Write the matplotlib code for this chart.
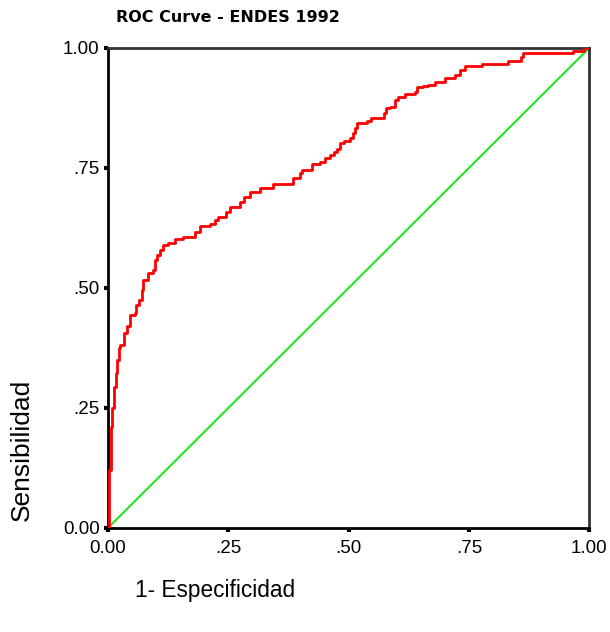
import matplotlib
matplotlib.use("Agg")
import matplotlib.pyplot as plt

# ROC curve vertices (1 - specificity, sensitivity)
fpr = [0.000, 0.002, 0.006, 0.007, 0.009, 0.0125, 0.016, 0.019, 0.023, 0.026,
       0.033, 0.039, 0.046, 0.056, 0.058, 0.065, 0.070, 0.073, 0.084, 0.094,
       0.098, 0.101, 0.108, 0.115, 0.125, 0.139, 0.156, 0.181, 0.191, 0.212,
       0.222, 0.229, 0.245, 0.254, 0.274, 0.283, 0.295, 0.316, 0.343, 0.385,
       0.399, 0.403, 0.424, 0.441, 0.451, 0.462, 0.470, 0.476, 0.482, 0.490,
       0.503, 0.509, 0.513, 0.518, 0.538, 0.547, 0.574, 0.578, 0.587, 0.597,
       0.603, 0.617, 0.638, 0.642, 0.655, 0.665, 0.680, 0.700, 0.721, 0.732,
       0.742, 0.778, 0.832, 0.859, 0.863, 0.967, 0.990, 1.000]
tpr = [0.000, 0.120, 0.163, 0.210, 0.250, 0.294, 0.323, 0.350, 0.375, 0.381,
       0.406, 0.420, 0.444, 0.448, 0.465, 0.475, 0.496, 0.517, 0.531, 0.538,
       0.558, 0.569, 0.579, 0.590, 0.594, 0.602, 0.606, 0.617, 0.629, 0.633,
       0.642, 0.648, 0.658, 0.669, 0.679, 0.690, 0.700, 0.708, 0.717, 0.729,
       0.740, 0.746, 0.758, 0.763, 0.771, 0.777, 0.783, 0.790, 0.802, 0.806,
       0.813, 0.823, 0.833, 0.844, 0.848, 0.854, 0.865, 0.875, 0.877, 0.892,
       0.898, 0.904, 0.908, 0.919, 0.921, 0.923, 0.929, 0.938, 0.944, 0.954,
       0.963, 0.967, 0.973, 0.982, 0.989, 0.994, 1.000, 1.000]

ref_line = [0.0, 1.0]

ticks = [0.0, 0.25, 0.5, 0.75, 1.0]
tick_labels = ["0.00", ".25", ".50", ".75", "1.00"]

fig = plt.figure(figsize=(6.1, 6.32), dpi=100, facecolor="white")
ax = fig.add_axes([0.177, 0.1646, 0.789, 0.7595])

ax.plot(ref_line, ref_line, color="#22e622", linewidth=1.5, zorder=2)
ax.plot(fpr, tpr, color="#ff0000", linewidth=2, drawstyle="steps-post", zorder=3)

ax.set_xlim(0, 1)
ax.set_ylim(0, 1)
ax.set_xticks(ticks)
ax.set_xticklabels(tick_labels)
ax.set_yticks(ticks)
ax.set_yticklabels(tick_labels)

for side in ["left", "bottom", "top", "right"]:
    ax.spines[side].set_linewidth(2)
    ax.spines[side].set_color("black")
ax.spines["top"].set_color("#333333")
ax.spines["right"].set_color("#333333")

ax.tick_params(direction="out", length=3, width=3, labelsize=13.5,
               colors="black")
ax.tick_params(axis="x", pad=6)
ax.tick_params(axis="y", pad=3)
for lab in ax.get_xticklabels() + ax.get_yticklabels():
    lab.set_family(["Liberation Sans", "DejaVu Sans"])

fig.text(0.19, 0.972, "ROC Curve - ENDES 1992", ha="left", va="center",
         fontsize=11.5, fontweight="bold",
         family=["Liberation Sans Narrow", "DejaVu Sans"])

fig.text(0.036, 0.288, "Sensibilidad", rotation=90, ha="center", va="center",
         fontsize=19, family=["Liberation Sans", "DejaVu Sans"])
fig.text(0.221, 0.066, "1- Especificidad", ha="left", va="center",
         fontsize=16.3, family=["Liberation Sans", "DejaVu Sans"])

fig.savefig("out.png", dpi=100, facecolor="white")
